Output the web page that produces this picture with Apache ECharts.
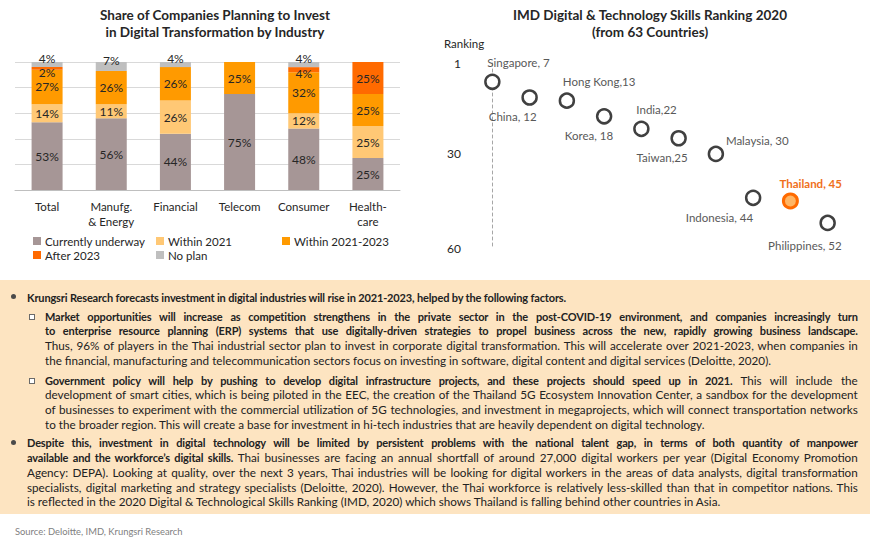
<!DOCTYPE html>
<html>
<head>
<meta charset="utf-8">
<script src="https://cdn.jsdelivr.net/npm/echarts@6/dist/echarts.min.js"></script>
<style>
  html, body { margin:0; padding:0; background:#fff; width:870px; height:545px; overflow:hidden; }
  #chart { position:absolute; left:0; top:0; width:870px; height:280px; }
  #box { position:absolute; left:0; top:280px; width:870px; height:234px; background:#FDE4C1;
         font-family:Lato, sans-serif; font-size:11.7px; color:#222; box-sizing:border-box; padding-top:9.6px; }
  .p { position:relative; line-height:14.7px; }
  .p.lvl1 { padding-left:27px; width:831px; }
  .p.lvl2 { padding-left:45px; width:813px; }
  .ln { white-space:nowrap; overflow:visible; height:14.7px; line-height:14.7px; }
  .ln > span { display:inline-block; height:14.7px; line-height:14.7px; vertical-align:top; }
  .bul1 { position:absolute; left:10.5px; top:4.8px; width:5px; height:5px; border-radius:50%; background:#4a4a4a; }
  .bul2 { position:absolute; left:29px; top:5px; width:4px; height:4px; border:1px solid #6a6a6a; background:#fff; }
  b { font-weight:700; font-size:11px; letter-spacing:-0.15px; line-height:14.7px; }
  #src { position:absolute; left:15px; top:526px; font-family:Lato, sans-serif; font-size:9.4px; color:#7f7f7f; }
</style>
</head>
<body>
<div id="chart"></div>
<div id="box">
  <div class="p lvl1" style="margin-top:0"><span class="bul1"></span>
    <div class="ln last"><span><b>Krungsri Research forecasts investment in digital industries will rise in 2021-2023, helped by the following factors.</b></span></div>
  </div>
  <div class="p lvl2" style="margin-top:4.3px"><span class="bul2"></span>
    <div class="ln"><span><b>Market opportunities will increase as competition strengthens in the private sector in the post-COVID-19 environment, and companies increasingly turn</b></span></div>
    <div class="ln"><span><b>to enterprise resource planning (ERP) systems that use digitally-driven strategies to propel business across the new, rapidly growing business landscape.</b></span></div>
    <div class="ln"><span>Thus, 96% of players in the Thai industrial sector plan to invest in corporate digital transformation. This will accelerate over 2021-2023, when companies in</span></div>
    <div class="ln last"><span>the financial, manufacturing and telecommunication sectors focus on investing in software, digital content and digital services (Deloitte, 2020).</span></div>
  </div>
  <div class="p lvl2" style="margin-top:5.2px"><span class="bul2"></span>
    <div class="ln"><span><b>Government policy will help by pushing to develop digital infrastructure projects, and these projects should speed up in 2021.</b> This will include the</span></div>
    <div class="ln"><span>development of smart cities, which is being piloted in the EEC, the creation of the Thailand 5G Ecosystem Innovation Center, a sandbox for the development</span></div>
    <div class="ln"><span>of businesses to experiment with the commercial utilization of 5G technologies, and investment in megaprojects, which will connect transportation networks</span></div>
    <div class="ln last"><span>to the broader region. This will create a base for investment in hi-tech industries that are heavily dependent on digital technology.</span></div>
  </div>
  <div class="p lvl1" style="margin-top:4.2px"><span class="bul1"></span>
    <div class="ln"><span><b>Despite this, investment in digital technology will be limited by persistent problems with the national talent gap, in terms of both quantity of manpower</b></span></div>
    <div class="ln"><span><b>available and the workforce’s digital skills.</b> Thai businesses are facing an annual shortfall of around 27,000 digital workers per year (Digital Economy Promotion</span></div>
    <div class="ln"><span>Agency: DEPA). Looking at quality, over the next 3 years, Thai industries will be looking for digital workers in the areas of data analysts, digital transformation</span></div>
    <div class="ln"><span>specialists, digital marketing and strategy specialists (Deloitte, 2020). However, the Thai workforce is relatively less-skilled than that in competitor nations. This</span></div>
    <div class="ln last"><span>is reflected in the 2020 Digital &amp; Technological Skills Ranking (IMD, 2020) which shows Thailand is falling behind other countries in Asia.</span></div>
  </div>
</div>
<div id="src">Source: Deloitte, IMD, Krungsri Research</div>
<script>
// ---------------- data ----------------
const industries = ['Total', 'Manufg.\n& Energy', 'Financial', 'Telecom', 'Consumer', 'Health-\ncare'];
const currentlyUnderway = [53, 56, 44, 75, 48, 25];
const within2021 = [14, 11, 26, 0, 12, 25];
const within2021to2023 = [27, 26, 26, 25, 32, 25];
const after2023 = [2, 0, 0, 0, 4, 25];
const noPlan = [4, 7, 4, 0, 4, 0];

const countries = ['Singapore', 'China', 'Hong Kong', 'Korea', 'India', 'Taiwan', 'Malaysia', 'Indonesia', 'Thailand', 'Philippines'];
const ranks = [7, 12, 13, 18, 22, 25, 30, 44, 45, 52];
const rankTicks = [1, 30, 60];
const highlightCountry = 'Thailand';
const noSpaceLabels = ['Hong Kong', 'India', 'Taiwan'];

// ---------------- layout / style ----------------
const FONT = 'Lato';
const TXT = '#262626';
// per-label nudges for the ranking chart [dx, dy]
const labelNudges = [[-5,0],[7,0],[-4,0],[9,0],[-5,0],[9,0],[10,6],[0,0],[-11,2],[14,3]];

// justify text lines
document.querySelectorAll('.ln').forEach(el => {
  const avail = el.parentElement.clientWidth - parseFloat(getComputedStyle(el.parentElement).paddingLeft);
  const inner = el.firstElementChild;
  let natural = inner.getBoundingClientRect().width;
  const text = el.textContent;
  const isLast = el.classList.contains('last');
  if (natural > avail) {
    el.style.letterSpacing = ((avail - natural) / text.length - 0.005) + 'px';
    el.querySelectorAll('b').forEach(b => b.style.letterSpacing = ((avail - natural) / text.length - 0.155) + 'px');
    natural = inner.getBoundingClientRect().width;
  }
  if (!isLast && natural < avail) {
    const spaces = (text.match(/ /g) || []).length;
    if (spaces) el.style.wordSpacing = ((avail - natural) / spaces - 0.01) + 'px';
  }
});

const chart = echarts.init(document.getElementById('chart'), null, { renderer: 'svg' });

function toData(arr) { return arr.map(v => (v > 0 ? v : '-')); }
function barSeries(name, arr, color, offsetFn) {
  return {
    name, type: 'bar', stack: 'share', xAxisIndex: 0, yAxisIndex: 0, barWidth: 31,
    itemStyle: { color },
    data: toData(arr).map(v => {
      const item = { value: v };
      if (offsetFn && v !== '-') item.label = { offset: offsetFn(v) };
      return item;
    }),
    label: { show: true, position: 'inside', formatter: '{c}%', color: TXT, fontFamily: FONT, fontSize: 12, lineHeight: 12 }
  };
}

const scatterData = ranks.map((r, i) => {
  const isHi = countries[i] === highlightCountry;
  const top = i % 2 === 0;
  const nudge = labelNudges[i];
  return {
    value: [i, r],
    name: countries[i],
    itemStyle: isHi ? { color: '#FFB564', borderColor: '#FF6A00', borderWidth: 3 } : undefined,
    label: {
      position: top ? 'top' : 'bottom',
      align: top ? 'left' : 'right',
      offset: nudge,
      formatter: countries[i] + ',' + (noSpaceLabels.includes(countries[i]) ? '' : ' ') + r,
      color: isHi ? '#F07020' : '#595959',
      fontWeight: isHi ? 'bold' : 'normal'
    }
  };
});

const legendText = { fontFamily: FONT, fontSize: 11.5, color: TXT, lineHeight: 14, padding: [0,0,0,-1] };
const option = {
  animation: false,
  title: [
    { text: 'Share of Companies Planning to Invest\nin Digital Transformation by Industry', left: 215, top: 6, textAlign: 'center', padding: 0,
      textStyle: { fontFamily: FONT, fontSize: 13.5, fontWeight: 'bold', color: TXT, lineHeight: 17 } },
    { text: 'IMD Digital & Technology Skills Ranking 2020\n(from 63 Countries)', left: 650, top: 6, textAlign: 'center', padding: 0,
      textStyle: { fontFamily: FONT, fontSize: 13.5, fontWeight: 'bold', color: TXT, lineHeight: 17 } },
    { text: 'Ranking', left: 444, top: 37, padding: 0,
      textStyle: { fontFamily: FONT, fontSize: 11.5, fontWeight: 'normal', color: TXT } }
  ],
  legend: [
    { left: 33, top: 234, padding: 0, orient: 'vertical', itemWidth: 8, itemHeight: 8, itemGap: 0, icon: 'rect',
      data: ['Currently underway', 'After 2023'], textStyle: legendText },
    { left: 156, top: 234, padding: 0, orient: 'vertical', itemWidth: 8, itemHeight: 8, itemGap: 0, icon: 'rect',
      data: ['Within 2021', 'No plan'], textStyle: legendText },
    { left: 282, top: 234, padding: 0, orient: 'vertical', itemWidth: 8, itemHeight: 8, itemGap: 0, icon: 'rect',
      data: ['Within 2021-2023'], textStyle: legendText }
  ],
  grid: [
    { left: 15, top: 62, width: 385, height: 128 },
    { left: 470, top: 63, width: 380, height: 185 }
  ],
  xAxis: [
    { type: 'category', gridIndex: 0, data: industries,
      axisLine: { lineStyle: { color: '#bfbfbf' } }, axisTick: { show: false },
      axisLabel: { color: TXT, fontFamily: FONT, fontSize: 11.5, lineHeight: 15, margin: 9, interval: 0 } },
    { type: 'value', gridIndex: 1, min: -0.6, max: 9.6, show: false }
  ],
  yAxis: [
    { type: 'value', gridIndex: 0, min: 0, max: 100, interval: 20,
      axisLabel: { show: false }, axisLine: { show: false }, axisTick: { show: false },
      splitLine: { lineStyle: { color: '#d9d9d9' } } },
    { type: 'value', gridIndex: 1, min: 1, max: 60, inverse: true,
      axisLine: { show: true, lineStyle: { color: '#a6a6a6', type: [3, 3] } },
      axisTick: { show: false }, splitLine: { show: false },
      axisLabel: { customValues: rankTicks, color: TXT, fontFamily: FONT, fontSize: 12, margin: 9 } }
  ],
  series: [
    barSeries('Currently underway', currentlyUnderway, '#A69696'),
    barSeries('Within 2021', within2021, '#FFC875'),
    barSeries('Within 2021-2023', within2021to2023, '#FF9A00'),
    barSeries('After 2023', after2023, '#FF6A00', v => (v < 10 ? [0, 4] : [0, 0])),
    barSeries('No plan', noPlan, '#BFBFBF', () => [0, -6]),
    { name: 'Ranking', type: 'scatter', xAxisIndex: 1, yAxisIndex: 1, symbol: 'circle', symbolSize: 14,
      itemStyle: { color: '#ffffff', borderColor: '#404040', borderWidth: 2.5, opacity: 1 },
      label: { show: true, fontFamily: FONT, fontSize: 11.5, distance: 5 },
      data: scatterData }
  ]
};
chart.setOption(option);
</script>
</body>
</html>
